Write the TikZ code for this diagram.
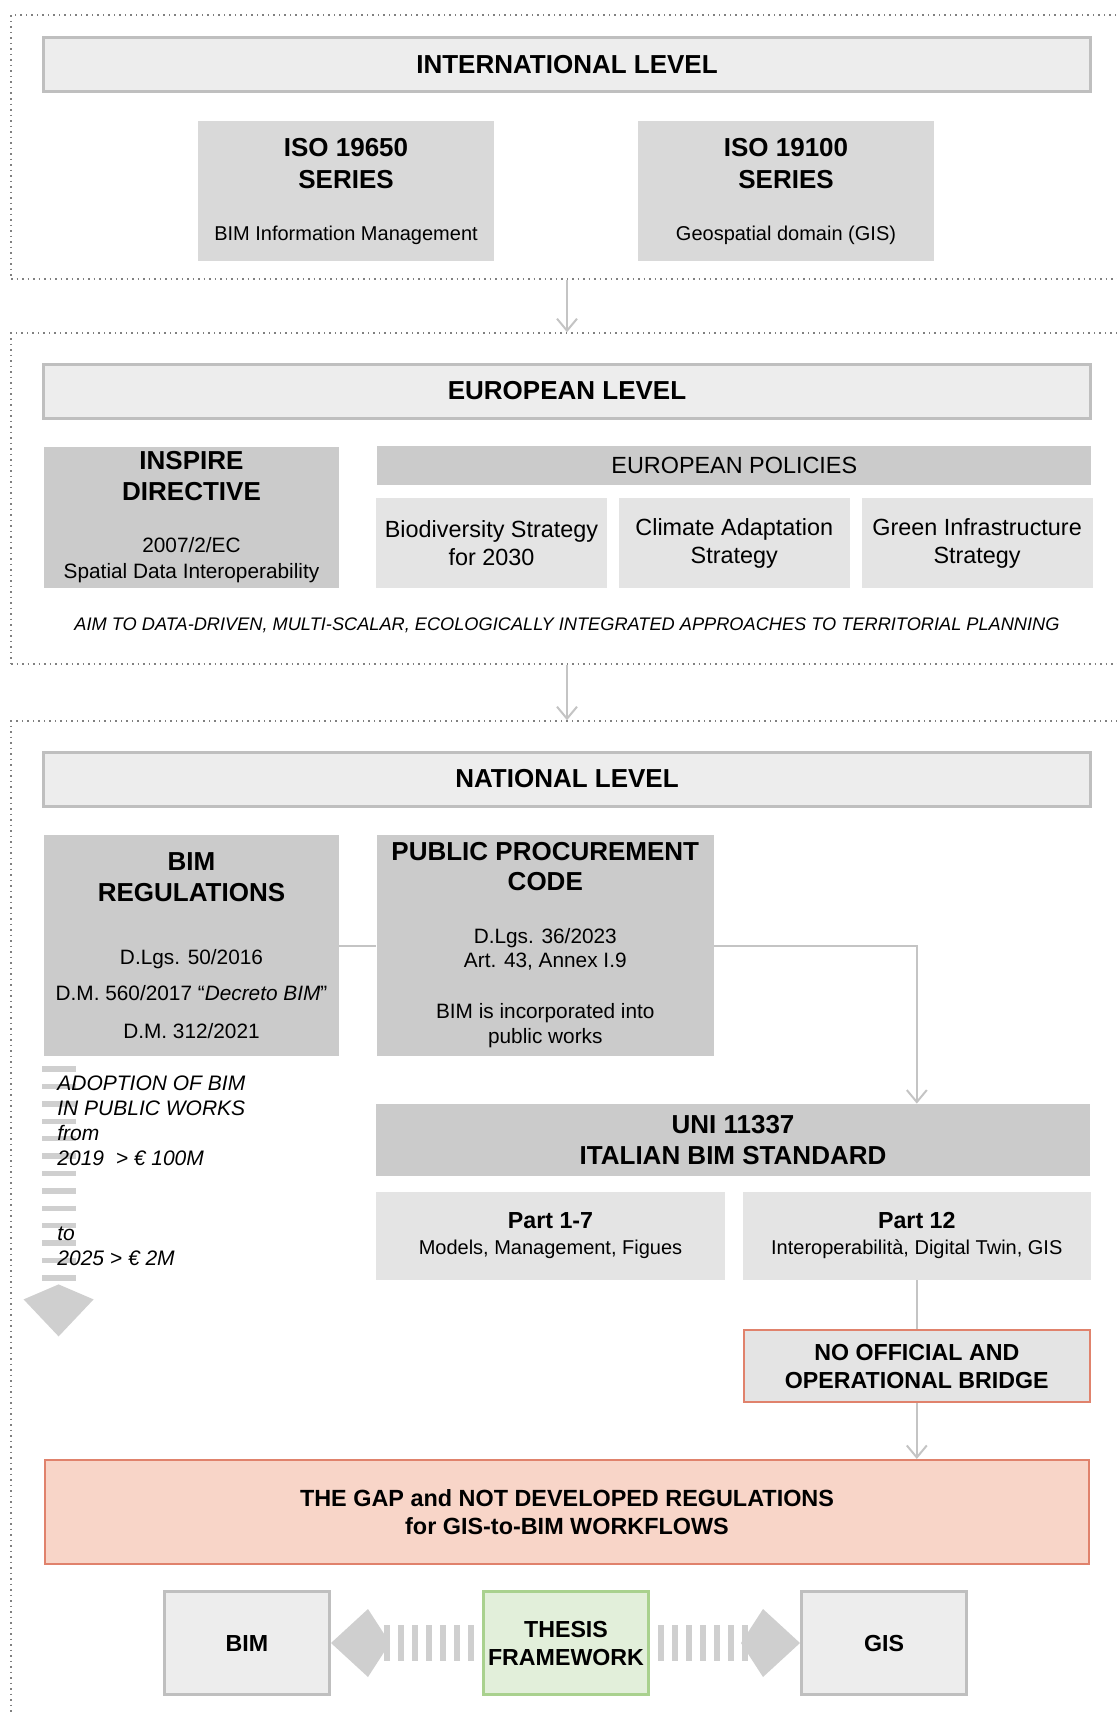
\documentclass[tikz,border=0pt]{standalone}
\usepackage{fontspec}
\setmainfont{Liberation Sans}
\usetikzlibrary{arrows.meta,positioning}
\definecolor{FrameDot}{HTML}{808080}
\definecolor{LevelFill}{HTML}{EDEDED}
\definecolor{LevelLine}{HTML}{BFBFBF}
\definecolor{IsoFill}{HTML}{D9D9D9}
\definecolor{DarkFill}{HTML}{CBCBCB}
\definecolor{LightFill}{HTML}{E4E4E4}
\definecolor{GapFill}{HTML}{F8D5C8}
\definecolor{GapLine}{HTML}{E0826C}
\definecolor{ThesisFill}{HTML}{E2EFDA}
\definecolor{ThesisLine}{HTML}{A9D18E}
\definecolor{LinkGray}{HTML}{C4C4C4}
\definecolor{BandGray}{HTML}{CFCFCF}

\begin{document}
\begin{tikzpicture}[
  x=0.5pt, y=-0.5pt,
  secframe/.style={
    draw=FrameDot, line width=0.75pt, dash pattern=on 0.75pt off 2pt,
    minimum width=559.5pt, inner sep=0pt
  },
  levelbox/.style={
    draw=LevelLine, line width=1.5pt, fill=LevelFill, inner sep=0pt,
    minimum width=523.5pt, minimum height=27pt,
    font=\fontsize{13}{16}\selectfont\bfseries
  },
  series/.style={
    fill=IsoFill, align=center, inner sep=0pt,
    minimum width=148pt, minimum height=70pt,
    font=\fontsize{13}{16}\selectfont
  },
  law/.style={
    fill=DarkFill, align=center, inner sep=0pt,
    font=\fontsize{13}{16}\selectfont
  },
  policy/.style={
    fill=LightFill, align=center, inner sep=0pt,
    minimum width=115.5pt, minimum height=45pt,
    font=\fontsize{11.7}{14}\selectfont
  },
  partbox/.style={
    fill=LightFill, align=center, inner sep=0pt,
    minimum width=174.5pt, minimum height=44pt,
    font=\fontsize{11.6}{13}\selectfont
  },
  bridge/.style={
    fill=LightFill, draw=GapLine, line width=1pt, align=center, inner sep=0pt,
    minimum width=173pt, minimum height=36pt,
    font=\fontsize{11.6}{14}\selectfont\bfseries
  },
  gapbox/.style={
    fill=GapFill, draw=GapLine, line width=1pt, align=center, inner sep=0pt,
    minimum width=522pt, minimum height=52pt,
    font=\fontsize{11.7}{14}\selectfont\bfseries
  },
  toolbox/.style={
    fill=LevelFill, draw=LevelLine, line width=1.5pt, align=center, inner sep=0pt,
    minimum width=82.5pt, minimum height=51.5pt,
    font=\fontsize{11.6}{14}\selectfont\bfseries
  },
  core/.style={toolbox, fill=ThesisFill, draw=ThesisLine},
  adopt/.style={align=left, inner sep=0pt, font=\fontsize{10.5}{12.5}\selectfont\itshape},
  link/.style={draw=LinkGray, line width=1pt, -{Straight Barb[length=6pt,width=10pt]}},
  plain/.style={draw=LinkGray, line width=1pt},
  band/.style={draw=BandGray, line width=18pt, dash pattern=on 3pt off 4pt}
]
\useasboundingbox (0,0) rectangle (1117,1713);

% level frames
\node[secframe, minimum height=132pt] (intlframe) at (570.5,147) {};
\node[secframe, minimum height=165.5pt] (euroframe) at (570.5,498.5) {};
\node[secframe, minimum height=509.5pt] (natframe) at (570.5,1230.5) {};

% international
\node[levelbox] (intl) at (567,64.5) {INTERNATIONAL LEVEL};
\node[series] (iso19650) at (346,191) {\textbf{ISO 19650}\\\textbf{SERIES}\\[10pt]
\fontsize{10}{12}\selectfont BIM Information Management};
\node[series] (iso19100) at (786,191) {\textbf{ISO 19100}\\\textbf{SERIES}\\[10pt]
\fontsize{10}{12}\selectfont Geospatial domain (GIS)};

% european
\node[levelbox] (euro) at (567,391) {EUROPEAN LEVEL};
\node[law, minimum width=147.5pt, minimum height=70.5pt] (inspire) at (191.5,517.5)
{\textbf{INSPIRE}\\[-0.5pt]\textbf{DIRECTIVE}\\[10pt]
\fontsize{10.4}{12}\selectfont 2007/2/EC\\[-3pt]
\fontsize{10.4}{12}\selectfont Spatial Data Interoperability};
\node[policy] (biodiv) at (491.5,543) {Biodiversity Strategy\\for 2030};
\node[policy, right=5.5pt of biodiv] (climate) {Climate Adaptation\\Strategy};
\node[policy, right=5.5pt of climate] (greeninf) {Green Infrastructure\\Strategy};
\node[law, above=6pt of climate, minimum width=357pt, minimum height=19.5pt,
  font=\fontsize{11.7}{14}\selectfont] (policies) {EUROPEAN POLICIES};
\node[font=\fontsize{9.1}{11}\selectfont\itshape] (aim) at (567,625)
{AIM TO DATA-DRIVEN, MULTI-SCALAR, ECOLOGICALLY INTEGRATED APPROACHES TO TERRITORIAL PLANNING};

% national
\node[levelbox] (national) at (567,779) {NATIONAL LEVEL};
\node[law, minimum width=147.5pt, minimum height=110.5pt] (bimreg) at (191.5,945.5)
{\textbf{BIM}\\[-0.5pt]\textbf{REGULATIONS}\\[15.75pt]
\fontsize{10.4}{12}\selectfont D.Lgs. 50/2016\\[2pt]
\fontsize{10.4}{12}\selectfont D.M. 560/2017 “\textit{Decreto BIM}”\\[2.75pt]
\fontsize{10.4}{12}\selectfont D.M. 312/2021};
\node[law, right=18.5pt of bimreg, minimum width=168.5pt, minimum height=110.5pt] (ppc)
{\textbf{PUBLIC PROCUREMENT}\\[-1pt]\textbf{CODE}\\[10.5pt]
\fontsize{10.4}{12}\selectfont D.Lgs. 36/2023\\[-4pt]
\fontsize{10.4}{12}\selectfont Art. 43, Annex I.9\\[9.5pt]
\fontsize{10.4}{12}\selectfont BIM is incorporated into\\[-3.5pt]
\fontsize{10.4}{12}\selectfont public works};
\node[law, minimum width=357pt, minimum height=36pt] (uni) at (733,1140)
{\textbf{UNI 11337}\\[-0.5pt]\textbf{ITALIAN BIM STANDARD}};
\node[partbox, below right=7.5pt and 0pt of uni.south west] (part17)
{\textbf{Part 1-7}\\\fontsize{10}{12}\selectfont Models, Management, Figues};
\node[partbox, right=8.5pt of part17, minimum width=174pt] (part12)
{\textbf{Part 12}\\\fontsize{10}{12}\selectfont Interoperabilità, Digital Twin, GIS};
\node[bridge, below=24.5pt of part12] (noofficial) {NO OFFICIAL AND\\OPERATIONAL BRIDGE};
\node[gapbox] (gap) at (567,1512) {THE GAP and NOT DEVELOPED REGULATIONS\\for GIS-to-BIM WORKFLOWS};
\node[core] (thesis) at (566,1643) {THESIS\\FRAMEWORK};
\node[toolbox, left=75.5pt of thesis] (bim) {BIM};
\node[toolbox, right=75pt of thesis] (gis) {GIS};

% adoption timeline
\coordinate (adoptstart) at ([xshift=7.5pt,yshift=-5pt]bimreg.south west);
\coordinate (adoptend) at ([yshift=-135pt]adoptstart);
\draw[band, line width=17pt, dash pattern=on 2.7pt off 6pt,
  -{Kite[length=26pt,width=35pt,inset=7.5pt,line width=0pt]}] (adoptstart) -- (adoptend);
\node[adopt, anchor=north west] (adoption) at (57,1075)
{ADOPTION OF BIM\\IN PUBLIC WORKS\\from\\2019~ > € 100M\\[25pt]to\\2025 > € 2M};

% connectors
\draw[link] (intl |- intlframe.south) -- (intl |- euroframe.north);
\draw[link] (intl |- euroframe.south) -- (intl |- natframe.north);
\draw[plain] (bimreg) -- (ppc);
\draw[link] (ppc.east) -| (uni.north -| part12.north);
\draw[plain] (part12) -- (noofficial);
\draw[link] (noofficial) -- (gap.north -| noofficial);
\draw[band, shorten <=4pt, -{Kite[length=29.5pt,width=34pt,inset=11pt,line width=0pt]}] (thesis.west) -- (bim.east);
\draw[band, shorten <=4pt, -{Kite[length=29.5pt,width=34pt,inset=11pt,line width=0pt]}] (thesis.east) -- (gis.west);
\end{tikzpicture}
\end{document}
